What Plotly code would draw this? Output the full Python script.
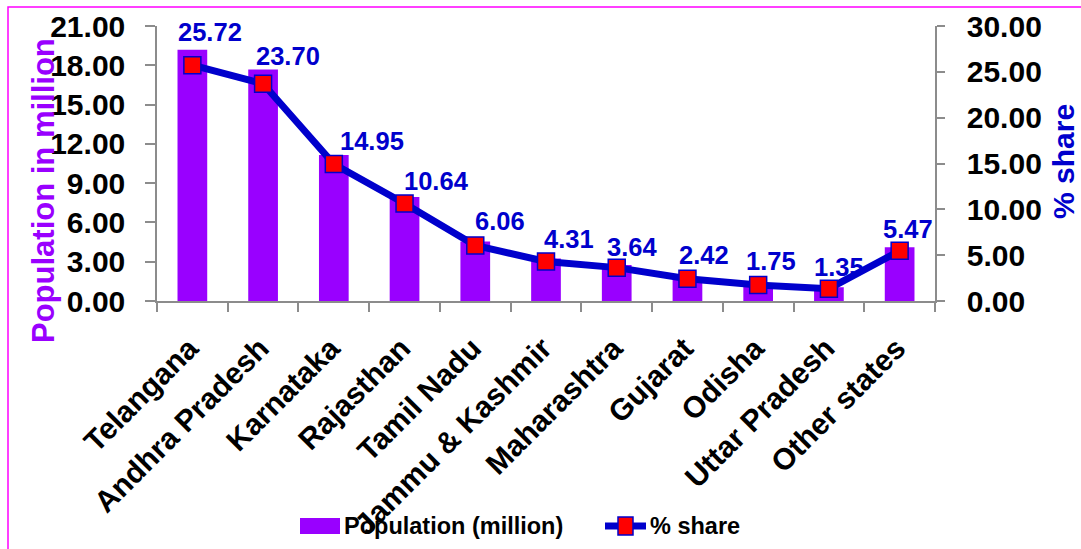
import plotly.graph_objects as go

states = ["Telangana", "Andhra Pradesh", "Karnataka", "Rajasthan", "Tamil Nadu",
          "Jammu & Kashmir", "Maharashtra", "Gujarat", "Odisha", "Uttar Pradesh",
          "Other states"]
population = [19.19, 17.68, 11.15, 7.95, 4.55, 3.25, 2.75, 1.83, 1.32, 1.05, 4.10]
share = [25.72, 23.70, 14.95, 10.64, 6.06, 4.31, 3.64, 2.42, 1.75, 1.35, 5.47]
share_labels = ["25.72", "23.70", "14.95", "10.64", "6.06", "4.31", "3.64",
                "2.42", "1.75", "1.35", "5.47"]
legend_names = ["Population (million)", "% share"]

# label offsets (pixels) relative to each marker
label_dx = [18, 25, 38, 32, 25, 23, 15, 17, 13, 10, 8]
label_dy = [33, 28, 23, 22, 24, 22, 21, 24, 24, 22, 22]

PURPLE = "#9900FF"
BLUE = "#0000CC"
GRAY = "#8C8C8C"
FONT = "Arial, Liberation Sans, sans-serif"

L, R, T, B = 157, 146, 26, 248
W, H = 1081, 549
PW, PH = W - L - R, H - T - B


def px_x(x):
    return (x - L) / PW


def px_y(y):
    return (H - B - y) / PH


fig = go.Figure()
fig.add_trace(go.Bar(
    x=states, y=population, name=legend_names[0],
    marker=dict(color=PURPLE, line=dict(width=0)),
    yaxis="y", showlegend=False,
))
fig.add_trace(go.Scatter(
    x=states, y=share, name=legend_names[1], mode="lines+markers",
    line=dict(color=BLUE, width=7),
    marker=dict(symbol="square", size=17, color="#FF0000",
                line=dict(color=BLUE, width=1.5)),
    yaxis="y2", showlegend=False,
))

for s, v, t, dx, dy in zip(states, share, share_labels, label_dx, label_dy):
    fig.add_annotation(x=s, y=v, xref="x", yref="y2", text=t, showarrow=False,
                       xshift=dx, yshift=dy,
                       font=dict(family=FONT, size=25.5, color=BLUE, weight="bold"))

# axis titles
fig.add_annotation(x=px_x(43), y=px_y(191), xref="paper", yref="paper",
                   text="Population in million", textangle=-90, showarrow=False,
                   xanchor="center", yanchor="middle",
                   font=dict(family=FONT, size=31, color=PURPLE, weight="bold"))
fig.add_annotation(x=px_x(1063), y=px_y(162), xref="paper", yref="paper",
                   text="% share", textangle=-90, showarrow=False,
                   xanchor="center", yanchor="middle",
                   font=dict(family=FONT, size=30, color=BLUE, weight="bold"))

# custom legend (drawn below the plot)
ly = 526
fig.add_shape(type="rect", xref="paper", yref="paper",
              x0=px_x(300), x1=px_x(340), y0=px_y(ly + 8), y1=px_y(ly - 8),
              line=dict(width=0), fillcolor=PURPLE)
fig.add_annotation(x=px_x(342), y=px_y(ly), xref="paper", yref="paper",
                   text=legend_names[0], showarrow=False, xanchor="left", yanchor="middle",
                   font=dict(family=FONT, size=23.5, color="black", weight="bold"))
fig.add_shape(type="line", xref="paper", yref="paper",
              x0=px_x(605), x1=px_x(646), y0=px_y(ly), y1=px_y(ly),
              line=dict(color=BLUE, width=7))
fig.add_shape(type="rect", xref="paper", yref="paper",
              x0=px_x(618), x1=px_x(633), y0=px_y(ly + 9), y1=px_y(ly - 9),
              line=dict(color=BLUE, width=1.5), fillcolor="#FF0000")
fig.add_annotation(x=px_x(648), y=px_y(ly), xref="paper", yref="paper",
                   text=legend_names[1], showarrow=False, xanchor="left", yanchor="middle",
                   font=dict(family=FONT, size=23.5, color="black", weight="bold"))

# outer magenta border
fig.add_shape(type="rect", xref="paper", yref="paper",
              x0=px_x(8), x1=1.5, y0=-2, y1=px_y(7),
              line=dict(color="#FF00FF", width=1.5), fillcolor="rgba(0,0,0,0)")

fig.update_layout(
    width=W, height=H,
    margin=dict(l=L, r=R, t=T, b=B, pad=0, autoexpand=False),
    paper_bgcolor="white", plot_bgcolor="white",
    bargap=0.58,
    font=dict(family=FONT, color="black"),
    showlegend=False,
    xaxis=dict(
        automargin=False, range=[-0.5, len(states) - 0.5],
        showline=True, linecolor=GRAY, linewidth=1.5,
        ticks="outside", tickson="boundaries", ticklen=9, tickcolor=GRAY, tickwidth=1.5,
        tickangle=-45, showgrid=False, ticklabelstandoff=16, ticklabelshift=-3,
        tickfont=dict(family=FONT, size=30, color="black", weight="bold"),
    ),
    yaxis=dict(
        automargin=False,
        range=[0, 21], dtick=3, tickformat=".2f",
        showline=True, linecolor=GRAY, linewidth=1.5,
        ticks="outside", ticklen=10, tickcolor=GRAY, tickwidth=1.5,
        showgrid=False, zeroline=False, ticklabelstandoff=14,
        tickfont=dict(family=FONT, size=30, color="black", weight="bold"),
    ),
    yaxis2=dict(
        automargin=False,
        range=[0, 30], dtick=5, tickformat=".2f", overlaying="y", side="right",
        showline=True, linecolor=GRAY, linewidth=1.5,
        ticks="outside", ticklen=8, tickcolor=GRAY, tickwidth=1.5,
        showgrid=False, zeroline=False, ticklabelstandoff=16,
        tickfont=dict(family=FONT, size=30, color="black", weight="bold"),
    ),
)

fig.write_html("out.html")
